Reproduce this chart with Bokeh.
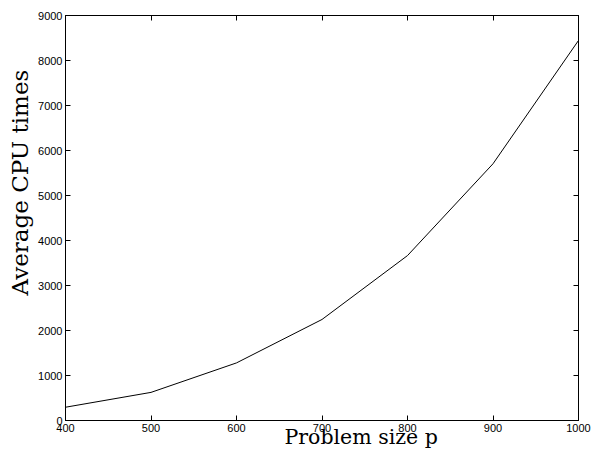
import numpy as np
from bokeh.plotting import figure
from bokeh.models import Range1d, LinearAxis, FixedTicker, Title, ColumnDataSource
from bokeh.embed import file_html
from bokeh.resources import INLINE

# data
problem_size = [400, 500, 600, 700, 800, 900, 1000]
cpu_times = [295, 625, 1280, 2245, 3665, 5705, 8445]
x_ticks = [400, 500, 600, 700, 800, 900, 1000]
y_ticks = [0, 1000, 2000, 3000, 4000, 5000, 6000, 7000, 8000, 9000]
x_label_text = "Problem size p"
y_label_text = "Average CPU times"

p = figure(frame_width=513, frame_height=405,
           min_border_left=65, min_border_top=15, min_border_right=13, min_border_bottom=30,
           x_range=Range1d(400, 1000), y_range=Range1d(0, 9000),
           output_backend="svg", toolbar_location=None,
           background_fill_color="white", border_fill_color="white")
p.xgrid.visible = False
p.ygrid.visible = False
p.outline_line_color = "black"
p.outline_line_width = 1

src = ColumnDataSource(dict(x=problem_size, y=cpu_times))
p.line("x", "y", source=src, line_color="black", line_width=1)

tick_font = "Liberation Sans"
for ax in p.xaxis:
    ax.ticker = FixedTicker(ticks=x_ticks)
for ax in p.yaxis:
    ax.ticker = FixedTicker(ticks=y_ticks)

for ax in list(p.xaxis) + list(p.yaxis):
    ax.major_tick_in = 5
    ax.major_tick_out = 0
    ax.minor_tick_in = 0
    ax.minor_tick_out = 0
    ax.axis_line_color = "black"
    ax.major_tick_line_color = "black"
    ax.major_label_text_font = tick_font
    ax.major_label_text_font_size = "11px"
    ax.major_label_text_color = "black"
    ax.major_label_standoff = 3

# mirrored axes (top and right) with ticks only
top = LinearAxis(ticker=FixedTicker(ticks=x_ticks), major_tick_in=5, major_tick_out=0,
                 minor_tick_in=0, minor_tick_out=0, major_label_text_font_size="0px",
                 major_label_text_color=None, major_label_standoff=0, axis_line_color="black")
right = LinearAxis(ticker=FixedTicker(ticks=y_ticks), major_tick_in=5, major_tick_out=0,
                   minor_tick_in=0, minor_tick_out=0, major_label_text_font_size="0px",
                   major_label_text_color=None, major_label_standoff=0, axis_line_color="black")
p.add_layout(top, "above")
p.add_layout(right, "right")

# axis titles (placed off-centre, as in the reference)
xt = Title(text=x_label_text, align="left", offset=219, vertical_align="top",
           standoff=-20, text_font="DejaVu Serif", text_font_size="20.5px",
           text_font_style="normal", text_color="black")
yt = Title(text=y_label_text, align="left", offset=125, vertical_align="middle",
           standoff=3, text_font="DejaVu Serif", text_font_size="23px",
           text_font_style="normal", text_color="black")
p.add_layout(xt, "below")
p.add_layout(yt, "left")

open("out.html", "w").write(file_html(p, INLINE))
